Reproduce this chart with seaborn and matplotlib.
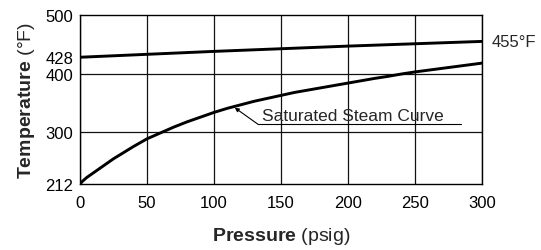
import pandas as pd
import matplotlib
matplotlib.use("Agg")
import matplotlib.pyplot as plt
import seaborn as sns

# values
steam_psig = [0, 2, 5, 10, 15, 20, 25, 30, 40, 50, 60, 70, 80, 90, 100, 110, 120, 130,
              140, 150, 160, 170, 180, 190, 200, 210, 220, 230, 240, 250, 260, 270,
              280, 290, 300]
steam_temp = [212, 217, 223, 231, 239, 247, 255, 262, 276, 289, 299, 309, 318, 326, 334,
              341, 347, 353, 358, 363, 368, 372, 376, 380, 384, 388, 392, 395.5, 399.5, 403,
              406, 409, 412, 415, 418]
upper_psig = [0, 100, 200, 300]
upper_temp = [428, 438, 447, 455]

x_ticks = [0, 50, 100, 150, 200, 250, 300]
y_ticks = [212, 300, 400, 428, 500]
y_grid = [300, 400]

sns.set_style("white")
plt.rcParams["font.family"] = ["Liberation Sans", "DejaVu Sans"]
plt.rcParams["mathtext.fontset"] = "custom"
plt.rcParams["mathtext.rm"] = "Liberation Sans"
plt.rcParams["mathtext.bf"] = "Liberation Sans:bold"

steam = pd.DataFrame({"psig": steam_psig, "temp": steam_temp})
upper = pd.DataFrame({"psig": upper_psig, "temp": upper_temp})

fig = plt.figure(figsize=(5.41, 2.51), dpi=100)
ax = fig.add_axes([80 / 541, 66 / 251, 402 / 541, 169 / 251])

# grid
for x in x_ticks:
    ax.axvline(x, color="#111111", lw=0.9, zorder=1)
for y in y_grid:
    ax.axhline(y, color="#111111", lw=0.9, zorder=1)

sns.lineplot(data=steam, x="psig", y="temp", ax=ax, color="black", lw=2.1, zorder=3)
sns.lineplot(data=upper, x="psig", y="temp", ax=ax, color="black", lw=2.1, zorder=3)

ax.set_xlim(0, 300)
ax.set_ylim(212, 500)
ax.set_xticks(x_ticks)
ax.set_yticks(y_ticks)
ax.tick_params(length=0, labelsize=12, colors="black")
ax.tick_params(axis="x", pad=8)
ax.tick_params(axis="y", pad=5)
for s in ax.spines.values():
    s.set_color("black")
    s.set_linewidth(1.0)

ax.set_xlabel(r"$\mathbf{Pressure}$ (psig)", fontsize=14, labelpad=11)
ax.set_ylabel(r"$\mathbf{Temperature}$ (°F)", fontsize=14, labelpad=6)

# end label of upper line
ax.annotate("455°F", xy=(upper_psig[-1], upper_temp[-1]), xytext=(7, 0),
            textcoords="offset points", va="center", ha="left", fontsize=12,
            annotation_clip=False)

# steam curve callout
ax.annotate("", xy=(115.5, 342), xytext=(133, 313.5),
            arrowprops=dict(arrowstyle="-|>", color="black", lw=0.8,
                            mutation_scale=6, shrinkA=0, shrinkB=0), zorder=4)
ax.plot([133, 284], [313.5, 313.5], color="black", lw=0.8, zorder=4)
ax.text(136, 320.5, "Saturated Steam Curve", fontsize=12.5, va="baseline",
        ha="left", zorder=4)

fig.savefig("out.png", dpi=100)
